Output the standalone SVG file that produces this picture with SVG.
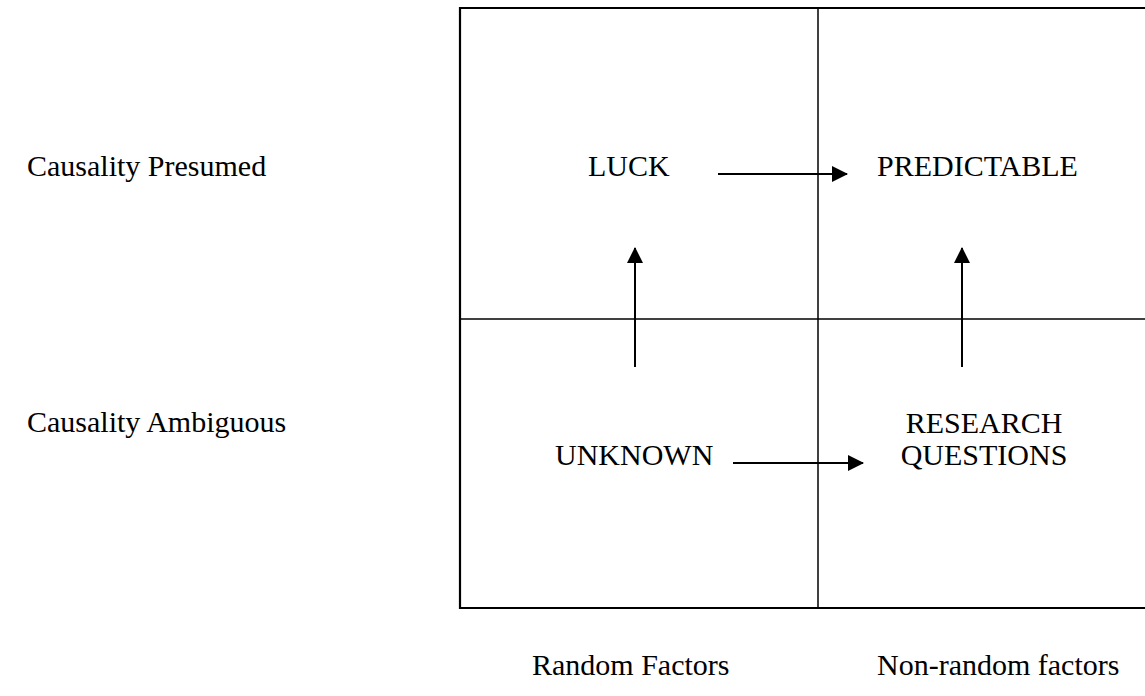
<svg xmlns="http://www.w3.org/2000/svg" width="1145" height="696" viewBox="0 0 1145 696">
<style>
text{font-family:"Liberation Serif","Times New Roman",serif;font-size:30px;fill:#000}
.frame{stroke:#000;stroke-width:2.2;fill:none}
.div{stroke:#000;stroke-width:1.5;fill:none}
.arr{stroke:#000;stroke-width:2;fill:none;marker-end:url(#ah)}
</style>
<defs>
<marker id="ah" markerWidth="16" markerHeight="16" refX="15" refY="8" orient="auto" markerUnits="userSpaceOnUse">
<path d="M0,0 L16,8 L0,16 Z" fill="#000"/>
</marker>
</defs>
<g id="grid">
<path class="frame" d="M1145,8 H460 V608 H1145"/>
<line class="div" x1="818" y1="8" x2="818" y2="608"/>
<line class="div" x1="460" y1="319" x2="1145" y2="319"/>
</g>
<g id="connectors">
<line class="arr" x1="718" y1="174" x2="847" y2="174"/>
<line class="arr" x1="733" y1="463" x2="863" y2="463"/>
<line class="arr" x1="635" y1="367" x2="635" y2="248"/>
<line class="arr" x1="962" y1="367" x2="962" y2="248"/>
</g>
<g id="row-labels">
<text x="27" y="176">Causality Presumed</text>
<text x="27" y="432">Causality Ambiguous</text>
</g>
<g id="col-labels">
<text x="532" y="675">Random Factors</text>
<text x="877" y="675">Non-random factors</text>
</g>
<g id="luck"><text x="588" y="176">LUCK</text></g>
<g id="predictable"><text x="877" y="176">PREDICTABLE</text></g>
<g id="unknown"><text x="555" y="465">UNKNOWN</text></g>
<g id="research"><text x="984" y="433" text-anchor="middle">RESEARCH</text><text x="984" y="465" text-anchor="middle">QUESTIONS</text></g>
</svg>
